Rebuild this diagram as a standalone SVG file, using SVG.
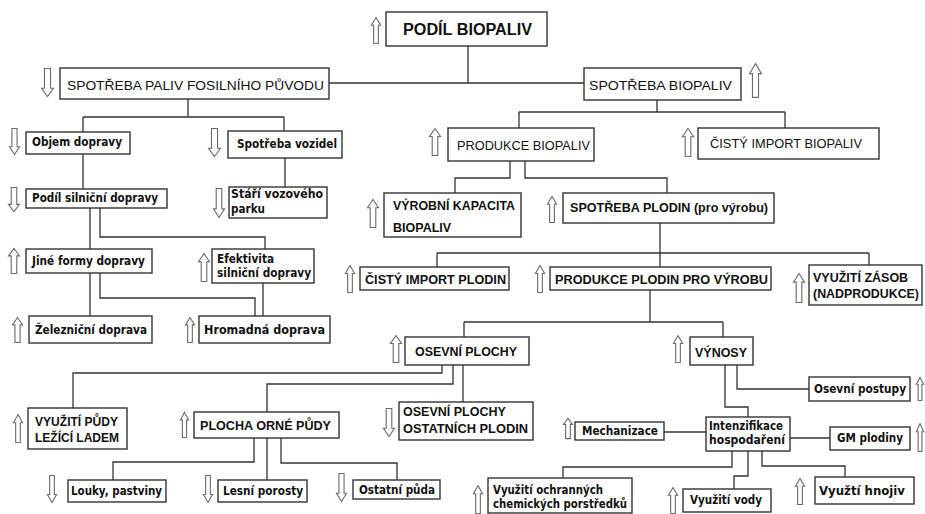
<svg xmlns="http://www.w3.org/2000/svg" xmlns:xlink="http://www.w3.org/1999/xlink" width="925" height="514" viewBox="0 0 925 514">
<style>
rect.b{fill:#fff;stroke:#333;stroke-width:1.4}
.c path{fill:none;stroke:#333;stroke-width:1.3}
text{fill:#111}
.h{font-family:"Liberation Sans",Arial,sans-serif;font-weight:bold;font-size:16px}
.u{font-family:"Liberation Sans",Arial,sans-serif;font-size:13.5px}
.ub{font-family:"Liberation Sans",Arial,sans-serif;font-weight:bold;font-size:12.5px}
.lb{font-family:"DejaVu Sans",Verdana,sans-serif;font-weight:bold;font-size:12px}
.ar{fill:#fff;stroke:#6a6a6a;stroke-width:1.1}
</style>
<defs>
<symbol id="up" viewBox="0 0 12 28" preserveAspectRatio="none" overflow="visible">
<path class="ar" vector-effect="non-scaling-stroke" d="M6,0.5 L11.5,8.5 L8.8,8.5 L8.8,27.5 L3.2,27.5 L3.2,8.5 L0.5,8.5 Z"/>
</symbol>
<symbol id="dn" viewBox="0 0 12 28" preserveAspectRatio="none" overflow="visible">
<path class="ar" vector-effect="non-scaling-stroke" d="M6,27.5 L11.5,19.5 L8.8,19.5 L8.8,0.5 L3.2,0.5 L3.2,19.5 L0.5,19.5 Z"/>
</symbol>
</defs>
<rect width="925" height="514" fill="#fff"/>

<g id="connectors" class="c">
<path d="M468,46 V83 M329,83 H584"/>
<path d="M188,99 V117 M83,117 H284 M83,117 V132 M284,117 V131"/>
<path d="M83,154 V189"/>
<path d="M90,208 V249 M100,208 V237 H265 V249"/>
<path d="M90,273 V316 M100,273 V298 H255 V316"/>
<path d="M263,283 V316"/>
<path d="M285,158 V187"/>
<path d="M657,100 V112 M519,112 H785 M519,112 V128 M785,112 V128"/>
<path d="M510,161 V178 H455 V193 M525,161 V178 H667 V193"/>
<path d="M660,223 V267 M437,253 H869 M437,253 V267 M869,253 V265"/>
<path d="M650,290 V322 M464,322 H723 M464,322 V337 M723,322 V337"/>
<path d="M442,365 V373 H73 V408 M453,365 V384 H267 V412 M463,365 V402"/>
<path d="M254,438 V462 H113 V480 M267,438 V480 M281,438 V463 H397 V480"/>
<path d="M725,365 V407 H748 V417 M737,365 V389 H809"/>
<path d="M790,438 H830 M664,432 H706"/>
<path d="M732,451 V467 H563 V478 M748,451 V476 H734 V489 M762,451 V466 H845 V477"/>
</g>

<g id="podil-biopaliv"><rect class="b" x="386" y="12" width="161" height="34"/><text class="h" x="403" y="35" textLength="129" lengthAdjust="spacingAndGlyphs">PODÍL BIOPALIV</text><use href="#up" x="371" y="17" width="10" height="27"/></g>

<g id="spotreba-fosil"><rect class="b" x="60" y="68" width="269" height="31"/><text class="u" x="67" y="90" textLength="257" lengthAdjust="spacingAndGlyphs">SPOTŘEBA PALIV FOSILNÍHO PŮVODU</text><use href="#dn" x="41" y="68" width="13" height="29"/></g>

<g id="objem-dopravy"><rect class="b" x="26" y="132" width="104" height="22"/><text class="lb" x="32" y="146" textLength="90" lengthAdjust="spacingAndGlyphs">Objem dopravy</text><use href="#dn" x="9" y="128" width="11" height="27"/></g>

<g id="spotreba-vozidel"><rect class="b" x="228" y="131" width="114" height="27"/><text class="lb" x="237" y="148" textLength="100" lengthAdjust="spacingAndGlyphs">Spotřeba vozidel</text><use href="#dn" x="208" y="128" width="13" height="29"/></g>

<g id="podil-silnicni"><rect class="b" x="26" y="189" width="141" height="19"/><text class="lb" x="32" y="202" textLength="126" lengthAdjust="spacingAndGlyphs">Podíl silniční dopravy</text><use href="#dn" x="8" y="187" width="12" height="25"/></g>

<g id="stari-parku"><rect class="b" x="229" y="187" width="98" height="31"/><text class="lb" x="231" y="198" textLength="92" lengthAdjust="spacingAndGlyphs">Stáří vozového</text><text class="lb" x="231" y="213" textLength="34" lengthAdjust="spacingAndGlyphs">parku</text><use href="#dn" x="213" y="188" width="12" height="30"/></g>

<g id="jine-formy"><rect class="b" x="26" y="249" width="126" height="24"/><text class="lb" x="32" y="265" textLength="113" lengthAdjust="spacingAndGlyphs">Jiné formy dopravy</text><use href="#up" x="8" y="248" width="12" height="26"/></g>

<g id="efektivita"><rect class="b" x="212" y="249" width="102" height="34"/><text class="lb" x="217" y="263" textLength="57" lengthAdjust="spacingAndGlyphs">Efektivita</text><text class="lb" x="217" y="277" textLength="94" lengthAdjust="spacingAndGlyphs">silniční dopravy</text><use href="#up" x="198" y="253" width="12" height="29"/></g>

<g id="zeleznicni"><rect class="b" x="29" y="316" width="123" height="27"/><text class="lb" x="35" y="334" textLength="112" lengthAdjust="spacingAndGlyphs">Železniční doprava</text><use href="#up" x="12" y="317" width="11" height="26"/></g>

<g id="hromadna"><rect class="b" x="199" y="316" width="131" height="27"/><text class="lb" x="204" y="334" textLength="121" lengthAdjust="spacingAndGlyphs">Hromadná doprava</text><use href="#up" x="185" y="317" width="10" height="26"/></g>

<g id="spotreba-biopaliv"><rect class="b" x="584" y="68" width="157" height="32"/><text class="u" x="589" y="90" textLength="143" lengthAdjust="spacingAndGlyphs">SPOTŘEBA BIOPALIV</text><use href="#up" x="749" y="63" width="13" height="35"/></g>

<g id="produkce-biopaliv"><rect class="b" x="448" y="128" width="146" height="33"/><text class="u" x="457" y="150" textLength="133" lengthAdjust="spacingAndGlyphs">PRODUKCE BIOPALIV</text><use href="#up" x="429" y="128" width="12" height="28"/></g>

<g id="import-biopaliv"><rect class="b" x="698" y="128" width="181" height="31"/><text class="u" x="710" y="148" textLength="152" lengthAdjust="spacingAndGlyphs">ČISTÝ IMPORT BIOPALIV</text><use href="#up" x="682" y="128" width="12" height="29"/></g>

<g id="vyrobni-kapacita"><rect class="b" x="384" y="193" width="137" height="44"/><text class="ub" x="393" y="210" textLength="122" lengthAdjust="spacingAndGlyphs">VÝROBNÍ KAPACITA</text><text class="ub" x="393" y="232">BIOPALIV</text><use href="#up" x="367" y="199" width="12" height="29"/></g>

<g id="spotreba-plodin"><rect class="b" x="563" y="193" width="211" height="30"/><text class="ub" x="570" y="212" textLength="198" lengthAdjust="spacingAndGlyphs">SPOTŘEBA PLODIN (pro výrobu)</text><use href="#up" x="547" y="196" width="10" height="27"/></g>

<g id="import-plodin"><rect class="b" x="360" y="267" width="149" height="23"/><text class="ub" x="365" y="284" textLength="141" lengthAdjust="spacingAndGlyphs">ČISTÝ IMPORT PLODIN</text><use href="#up" x="345" y="265" width="10" height="28"/></g>

<g id="produkce-plodin"><rect class="b" x="550" y="267" width="221" height="23"/><text class="ub" x="555" y="284" textLength="213" lengthAdjust="spacingAndGlyphs">PRODUKCE PLODIN PRO VÝROBU</text><use href="#up" x="535" y="265" width="10" height="28"/></g>

<g id="vyuziti-zasob"><rect class="b" x="809" y="265" width="113" height="40"/><text class="ub" x="813" y="282">VYUŽITÍ ZÁSOB</text><text class="ub" x="813" y="298" textLength="106" lengthAdjust="spacingAndGlyphs">(NADPRODUKCE)</text><use href="#up" x="793" y="273" width="12" height="30"/></g>

<g id="osevni-plochy"><rect class="b" x="405" y="337" width="124" height="28"/><text class="ub" x="415" y="356" textLength="102" lengthAdjust="spacingAndGlyphs">OSEVNÍ PLOCHY</text><use href="#up" x="390" y="335" width="12" height="28"/></g>

<g id="vynosy"><rect class="b" x="690" y="337" width="63" height="28"/><text class="ub" x="695" y="357" textLength="52" lengthAdjust="spacingAndGlyphs">VÝNOSY</text><use href="#up" x="673" y="335" width="10" height="28"/></g>

<g id="puda-ladem"><rect class="b" x="28" y="408" width="99" height="41"/><text class="ub" x="35" y="426" textLength="83" lengthAdjust="spacingAndGlyphs">VYUŽITÍ PŮDY</text><text class="ub" x="35" y="442" textLength="84" lengthAdjust="spacingAndGlyphs">LEŽÍCÍ LADEM</text><use href="#up" x="13" y="414" width="10" height="29"/></g>

<g id="plocha-orne"><rect class="b" x="194" y="412" width="145" height="26"/><text class="ub" x="200" y="430" textLength="131" lengthAdjust="spacingAndGlyphs">PLOCHA ORNÉ PŮDY</text><use href="#up" x="180" y="412" width="9" height="26"/></g>

<g id="osevni-ostatnich"><rect class="b" x="399" y="402" width="134" height="38"/><text class="ub" x="403" y="416">OSEVNÍ PLOCHY</text><text class="ub" x="403" y="433" textLength="125" lengthAdjust="spacingAndGlyphs">OSTATNÍCH PLODIN</text><use href="#dn" x="383" y="408" width="12" height="29"/></g>

<g id="louky"><rect class="b" x="68" y="480" width="98" height="22"/><text class="lb" x="71" y="495" textLength="91" lengthAdjust="spacingAndGlyphs">Louky, pastviny</text><use href="#dn" x="47" y="475" width="10" height="28"/></g>

<g id="lesni"><rect class="b" x="218" y="480" width="89" height="22"/><text class="lb" x="223" y="495" textLength="80" lengthAdjust="spacingAndGlyphs">Lesní porosty</text><use href="#dn" x="203" y="475" width="10" height="28"/></g>

<g id="ostatni-puda"><rect class="b" x="353" y="480" width="87" height="19"/><text class="lb" x="359" y="494" textLength="76" lengthAdjust="spacingAndGlyphs">Ostatní půda</text><use href="#dn" x="336" y="473" width="11" height="29"/></g>

<g id="osevni-postupy"><rect class="b" x="809" y="377" width="101" height="24"/><text class="lb" x="814" y="393" textLength="92" lengthAdjust="spacingAndGlyphs">Osevní postupy</text><use href="#up" x="916" y="377" width="8" height="24"/></g>

<g id="intenzifikace"><rect class="b" x="706" y="417" width="84" height="34"/><text class="lb" x="709" y="430" textLength="74" lengthAdjust="spacingAndGlyphs">Intenzifikace</text><text class="lb" x="709" y="444" textLength="76" lengthAdjust="spacingAndGlyphs">hospodaření</text></g>

<g id="gm-plodiny"><rect class="b" x="830" y="427" width="80" height="23"/><text class="lb" x="837" y="442" textLength="66" lengthAdjust="spacingAndGlyphs">GM plodiny</text><use href="#up" x="916" y="423" width="8" height="29"/></g>

<g id="mechanizace"><rect class="b" x="575" y="422" width="89" height="18"/><text class="lb" x="582" y="435" textLength="76" lengthAdjust="spacingAndGlyphs">Mechanizace</text><use href="#up" x="563" y="418" width="10" height="21"/></g>

<g id="ochranne-prostredky"><rect class="b" x="488" y="478" width="144" height="35"/><text class="lb" x="493" y="494" textLength="110" lengthAdjust="spacingAndGlyphs">Využití ochranných</text><text class="lb" x="493" y="508" textLength="134" lengthAdjust="spacingAndGlyphs">chemických porstředků</text><use href="#up" x="473" y="485" width="10" height="29"/></g>

<g id="vyuziti-vody"><rect class="b" x="683" y="489" width="88" height="23"/><text class="lb" x="690" y="504" textLength="72" lengthAdjust="spacingAndGlyphs">Využití vody</text><use href="#up" x="668" y="487" width="10" height="27"/></g>

<g id="vyuziti-hnojiv"><rect class="b" x="815" y="477" width="99" height="27"/><text class="lb" x="819" y="495" textLength="86" lengthAdjust="spacingAndGlyphs">Využtí hnojiv</text><use href="#up" x="795" y="478" width="10" height="27"/></g>
</svg>
